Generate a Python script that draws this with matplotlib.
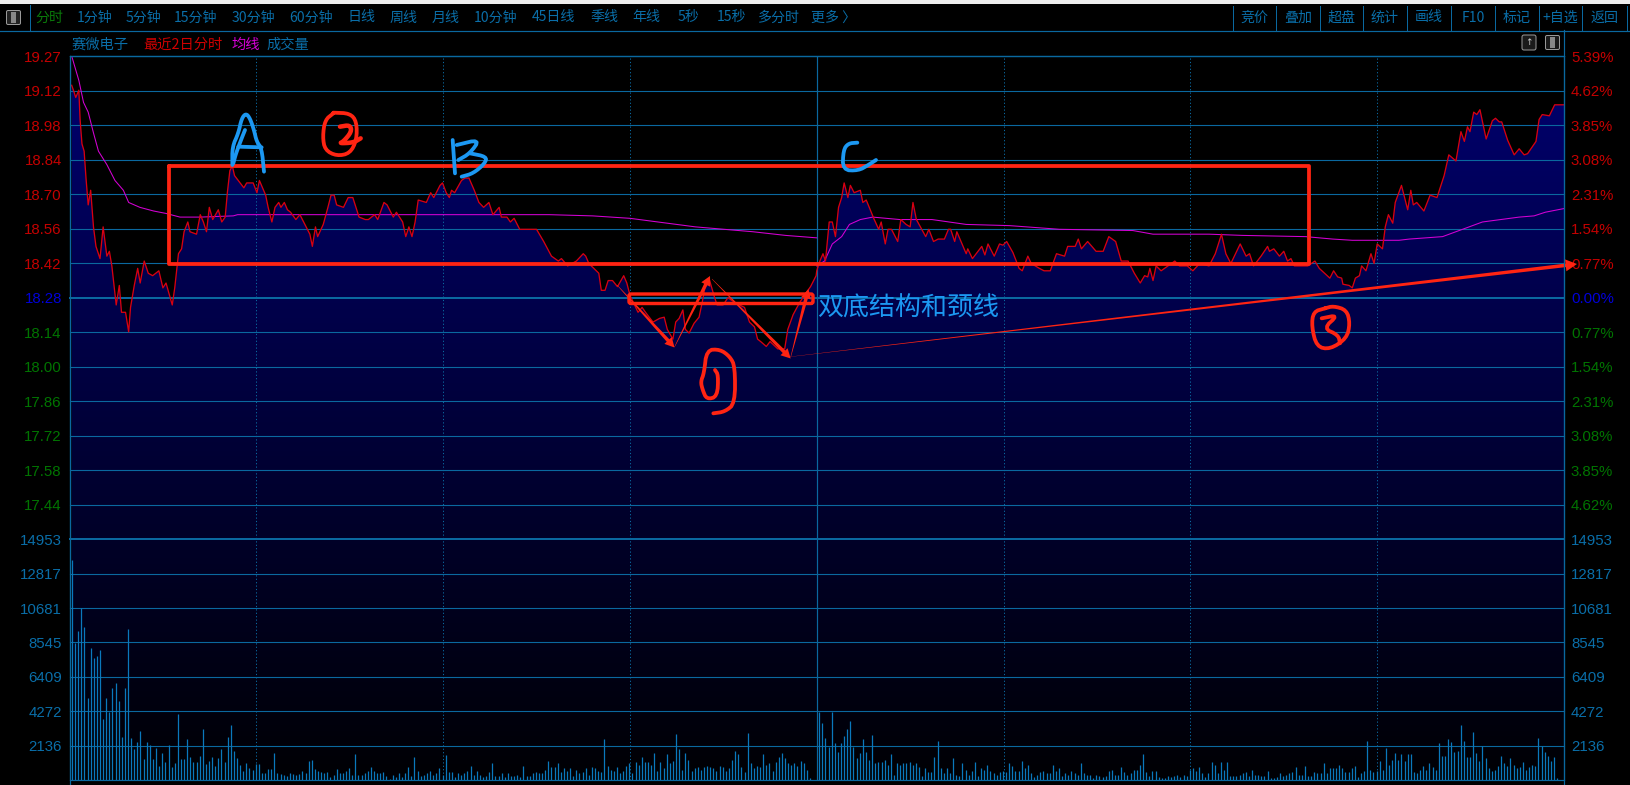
import numpy as np
import matplotlib
matplotlib.use("Agg")
import matplotlib.pyplot as plt
from matplotlib.patches import Polygon, FancyBboxPatch, Rectangle

CJK = ['Noto Sans CJK SC', 'DejaVu Sans']
NUM = ['Liberation Sans', 'DejaVu Sans']
plt.rcParams['font.family'] = CJK

W, H = 1630, 785
# ---------- data ----------
price_min = [0.7,1.4,2,3,3.4,4,4.7,5.3,6,6.8,7.7,8.5,9.8,10.8,12,12.8,13.6,15,16,16.7,18,19,19.6,20.8,21.9,22.7,24,25.3,26.7,28.7,30,31,33,33.8,35,36,36.8,38,38.7,40.8,42,43,44,44.9,46,47.8,48.9,50,50.7,51.5,52.3,53,56,56.9,59,60.2,61,63,63.8,65,66,67.2,67.9,69,70,71,72.7,74,75.6,77.2,78,79,79.7,81.5,83,84,85,85.8,88,89.5,91,93,95,96,98,99,101,102,104,105,107,108,109,110,111,112,
             114.6,116,117,119,119.8,121,122,122.7,123.7,125.9,127,128.3,130,131.5,133,134.7,136,138,138.7,140.5,141.6,142.8,144.6,146,147,150,152.3,154.8,157,158,160,162.8,165,165.8,166.8,170,170.8,172,173,174.4,176,178,179,180,181.5,182.6,183.9,185,187.4,189.5,191,192,193.8,194.7,195.8,197,197.8,199,200.6,202.2,203.2,204.5,205.6,207.2,208,209.9,211.5,213.6,216.8,218.4,220,221,222,223.8,225,227.5,229.7,230.7,232.4,234.5,236.6,238,239.8,
             240,241,242,242.8,244,245,246,247,248,248.8,250,250.8,252,254,254.8,255.9,258.3,259.9,260.7,262,262.9,264,266,267,268.7,270,270.9,272,275,276,277.5,279,281,282.3,283,284.3,285,288,288.5,290,293,294,295,297,298.7,299.8,301,303,305,306,307.8,308.9,311.5,313,315,317,319.6,320.6,323,324,325,327,329.7,332,333.8,336,337.8,340,342,343.9,345.3,346.3,347,348,349,350.6,352.8,355,356.5,359,360.8,363,366,368,370,371.4,373,376,377.9,379,380.3,382.7,384.8,385.4,386.8,388.6,390,391.2,392.3,393.4,395.5,397.7,400,401.4,404.8,406,407.3,408.6,409,411,412,413,414.3,415,416.4,418,419,420,421.7,422.6,423.6,425,425.8,427.8,429.8,430.8,431.6,432.7,435,437,439.2,441.5,443,445.3,446.9,448,449,449.8,451,452,453,455,457,458,459.2,460,461.9,464,465.6,467.2,468.3,471,472,473,475.3,477,478,480]
price_val = [19.15,19.125,19.10,19.13,19.01,18.91,18.88,18.77,18.66,18.72,18.57,18.49,18.44,18.57,18.45,18.47,18.41,18.25,18.33,18.22,18.22,18.14,18.24,18.33,18.40,18.34,18.43,18.38,18.37,18.39,18.32,18.34,18.25,18.32,18.46,18.48,18.55,18.59,18.55,18.54,18.62,18.59,18.55,18.65,18.60,18.64,18.59,18.61,18.71,18.80,18.82,18.78,18.73,18.75,18.75,18.71,18.76,18.70,18.65,18.59,18.65,18.67,18.65,18.67,18.64,18.63,18.60,18.62,18.58,18.54,18.49,18.57,18.53,18.58,18.65,18.70,18.70,18.66,18.65,18.69,18.69,18.61,18.60,18.60,18.62,18.60,18.67,18.66,18.61,18.63,18.59,18.53,18.57,18.53,18.59,18.68,
             18.67,18.71,18.69,18.74,18.75,18.71,18.69,18.72,18.71,18.76,18.77,18.77,18.72,18.67,18.65,18.67,18.62,18.65,18.61,18.61,18.59,18.605,18.56,18.56,18.56,18.56,18.51,18.45,18.43,18.44,18.41,18.43,18.46,18.45,18.42,18.38,18.31,18.31,18.35,18.35,18.325,18.37,18.34,18.29,18.25,18.22,18.24,18.22,18.18,18.195,18.20,18.15,18.11,18.18,18.195,18.23,18.15,18.135,18.175,18.20,18.26,18.35,18.35,18.28,18.25,18.25,18.28,18.26,18.24,18.18,18.16,18.11,18.10,18.08,18.10,18.07,18.07,18.15,18.21,18.26,18.30,18.325,18.37,
             18.39,18.43,18.46,18.43,18.59,18.59,18.53,18.65,18.69,18.75,18.69,18.74,18.71,18.72,18.67,18.68,18.605,18.56,18.59,18.50,18.56,18.56,18.51,18.60,18.58,18.57,18.67,18.60,18.53,18.56,18.51,18.52,18.52,18.56,18.56,18.51,18.55,18.46,18.48,18.44,18.49,18.455,18.50,18.45,18.50,18.495,18.51,18.465,18.40,18.39,18.45,18.42,18.40,18.39,18.39,18.46,18.45,18.49,18.49,18.52,18.48,18.51,18.47,18.47,18.53,18.51,18.43,18.43,18.38,18.34,18.37,18.365,18.40,18.35,18.41,18.39,18.41,18.43,18.41,18.41,18.39,18.42,18.41,18.46,18.54,18.46,18.42,18.50,18.45,18.46,18.41,18.45,18.49,18.47,18.48,18.45,18.47,18.43,18.44,18.41,18.41,18.41,18.43,18.40,18.36,18.39,18.365,18.36,18.335,18.33,18.32,18.36,18.37,18.41,18.39,18.46,18.42,18.50,18.48,18.57,18.62,18.585,18.67,18.74,18.64,18.72,18.66,18.67,18.635,18.70,18.69,18.78,18.865,18.84,18.96,18.92,18.98,18.96,19.04,19.03,19.05,18.93,19.005,19.015,19.00,19.00,18.925,18.865,18.89,18.865,18.87,18.92,19.01,19.03,19.025,19.07,19.07,19.07]

avg1_min = [0.7,3,4.5,6,7.7,9.3,12,14.6,17.3,19,22.6,27,31,35.5,42,52.6,54,74,95,112.5,154,168,180,201,219.5,230,240]
avg1_val = [19.27,19.17,19.08,19.04,18.955,18.88,18.825,18.76,18.72,18.67,18.65,18.635,18.625,18.61,18.61,18.615,18.62,18.62,18.62,18.62,18.62,18.615,18.605,18.57,18.55,18.535,18.525]
avg2_min = [240,242.5,245,248,250.5,254,258,266.6,277,288,302,318,341.5,348,366,376.8,397,405.7,412,427,430.3,441,447.4,453.8,465.6,470.4,474,480]
avg2_val = [18.41,18.43,18.50,18.53,18.58,18.60,18.61,18.60,18.60,18.58,18.575,18.56,18.555,18.54,18.54,18.535,18.53,18.52,18.515,18.515,18.52,18.53,18.56,18.59,18.61,18.615,18.63,18.645]

vol_day1 = [13660,8490,9250,10660,9480,5070,8180,7550,7700,8070,3770,5070,4240,5690,6000,4900,2690,5690,9350,2590,1900,2380,3060,1280,2340,2170,1280,1970,870,1650,1140,2170,800,1035,4080,1280,1280,2520,1450,1140,1120,1510,3150,970,1200,1430,890,1370,1900,1120,2670,3440,1820,1370,950,580,1035,725,600,970,970,410,430,660,660,1650,410,350,330,250,410,350,330,350,560,410,1200,1260,660,580,520,410,480,190,330,660,410,410,580,725,330,1590,330,330,455,580,790,580,410,410,480,250,80,330,190,410,210,410,800,250,1400,580,
            250,330,410,580,330,410,725,330,1550,480,480,165,410,330,410,560,870,330,560,330,165,250,480,1035,250,250,410,165,410,250,250,330,165,870,250,250,410,480,410,410,620,1180,810,810,1035,480,725,560,725,250,640,410,500,725,330,810,725,560,500,2525,870,640,560,810,410,560,870,1035,410,1120,950,1430,1120,1120,950,1655,560,1120,725,1590,1035,1200,2835,1900,640,1655,1260,560,725,810,640,810,870,810,725,560,870,810,560,725,1260,1820,1590,810,480,2900,1035,725,870,810,1590,950,1035,560,1120,1430,1655,1345,1035,950,1035,870,1200,1035,640,100]
vol_day2 = [4240,3520,2590,2070,4220,2280,1740,2280,2730,3150,3680,2070,1345,1655,2525,1740,1260,2815,1035,1120,1120,1260,950,1590,330,1035,950,1035,1035,1120,950,1035,810,250,725,480,480,1430,2420,725,410,725,410,1345,330,250,1035,640,330,560,1120,250,725,640,950,560,410,330,480,560,480,1035,870,560,560,
            1200,725,950,410,210,330,480,560,410,410,950,560,725,250,410,330,560,410,330,1035,410,330,330,100,330,250,165,250,560,640,330,330,810,480,330,410,640,640,950,1590,480,250,560,560,165,100,100,250,165,250,330,165,330,250,640,725,560,810,410,165,410,1120,950,410,1120,640,1120,250,250,250,330,410,500,250,640,330,330,250,250,560,100,100,165,410,250,330,410,480,810,330,330,870,250,250,480,410,410,1035,410,725,725,725,950,725,500,500,725,870,165,410,560,2420,640,500,560,1200,640,1970,950,1260,1655,1260,1590,1200,1590,1590,500,410,640,870,640,1035,810,640,2280,1510,1510,2525,2360,1740,1820,3440,2420,1430,1430,2960,1655,1200,2130,1345,725,560,640,870,1510,1035,870,1345,950,725,810,1120,640,810,950,870,2590,2130,1740,1510,1200,1430,100]

price_labels = ['19.27','19.12','18.98','18.84','18.70','18.56','18.42','18.28','18.14','18.00','17.86','17.72','17.58','17.44']
pct_labels = ['5.39%','4.62%','3.85%','3.08%','2.31%','1.54%','0.77%','0.00%','0.77%','1.54%','2.31%','3.08%','3.85%','4.62%']
vol_levels = [2136,4272,6409,8545,10681,12817,14953]

tool_left = [('分时',35,'#0a7a0a'),('1分钟',77,None),('5分钟',126,None),('15分钟',174,None),('30分钟',232,None),('60分钟',289,None),('日线',347,None),('周线',390,None),('月线',432,None),('10分钟',474,None),('45日线',532,None),('季线',590,None),('年线',632,None),('5秒',678,None),('15秒',717,None),('多分时',758,None),('更多 〉',811,None)]
tool_right = ['竞价','叠加','超盘','统计','画线','F10','标记','+自选','返回']
tool_seps = [1233.4,1276,1320,1363,1407,1451,1495,1538.5,1582,1627]

# ---------- style ----------
GRID = '#0a689f'
RED_T = '#c40000'
BLUE_T = '#0000d8'
GREEN_T = '#007400'
LBL = '#0a6ea8'
PEN_R = '#ff2412'
PEN_B = '#1c98f2'
px = 72 / 100

fig = plt.figure(figsize=(W/100, H/100), dpi=100, facecolor='black')
def axes_px(l, t, r, b, **kw):
    return fig.add_axes([l/W, 1-b/H, (r-l)/W, (b-t)/H], **kw)

L, R, T, MID, B = 69.5, 1564, 56, 539.3, 780
ppx = 0.99/7/((MID-T)/14)
P_TOP = 19.27
P_BOT = P_TOP - (B-T)*ppx

ax = axes_px(L, T, R, B, facecolor='black', zorder=1)
ax.set_xlim(0, 480); ax.set_ylim(P_BOT, P_TOP)
# gradient fill under the price
grad = np.zeros((256, 1, 3), dtype=np.uint8)
grad[:, 0, 2] = np.linspace(112, 4, 256).astype(np.uint8)
im = ax.imshow(grad, extent=(0, 480, P_BOT, P_TOP), aspect='auto', zorder=1, interpolation='bilinear')
poly = Polygon(list(zip(price_min, price_val)) + [(480, P_BOT), (price_min[0], P_BOT)], closed=True,
               transform=ax.transData, fc='none', ec='none')
ax.add_patch(poly)
im.set_clip_path(poly)
ax.set_xlim(0, 480); ax.set_ylim(P_BOT, P_TOP)

ticks = [P_TOP - k*(0.99/7) for k in range(14)]
for k, y in enumerate(ticks):
    ax.axhline(y, color=GRID, lw=2*px if k == 7 else 1.1*px, zorder=2, clip_on=False)
for m in [60, 120, 180, 300, 360, 420]:
    ax.axvline(m, color=GRID, lw=1*px, ls=(0, (1.2, 2.2)), zorder=2)
ax.axvline(240, color=GRID, lw=1.2*px, zorder=2)
ax.plot(avg1_min, avg1_val, color='#d400d4', lw=1.05*px, zorder=3)
ax.plot(avg2_min, avg2_val, color='#d400d4', lw=1.05*px, zorder=3)
ax.plot(price_min, price_val, color='#d80010', lw=1.3*px, zorder=4)

colors = [RED_T]*7 + [BLUE_T] + [GREEN_T]*6
ax.set_xticks([])
ax.set_yticks(ticks, labels=price_labels)
ax.tick_params(axis='y', length=0, pad=5.5)
for t, c in zip(ax.get_yticklabels(), colors):
    t.set_color(c); t.set_fontfamily(NUM); t.set_fontsize(15*px)
ax2 = ax.twinx()
ax2.set_ylim(P_BOT, P_TOP); ax2.set_xticks([])
ax2.set_yticks(ticks, labels=pct_labels)
ax2.tick_params(axis='y', length=0, pad=5)
for t, c in zip(ax2.get_yticklabels(), colors):
    t.set_color(c); t.set_fontfamily(NUM); t.set_fontsize(15*px)
for a in (ax, ax2):
    for s in a.spines.values():
        s.set_color(GRID); s.set_linewidth(1.1*px)
ax2.patch.set_visible(False)

vax = axes_px(L, MID, R, B, zorder=3)
vax.patch.set_visible(False)
vax.set_xlim(0, 480); vax.set_ylim(0, 14953)
for i, lv in enumerate(vol_levels):
    vax.axhline(lv, color=GRID, lw=2*px if lv == 14953 else 1.1*px, clip_on=False, zorder=1)
vax.vlines(np.arange(len(vol_day1)) + 0.8, 0, vol_day1, color='#0a78bc', lw=1.25*px, zorder=2)
vax.vlines(np.arange(len(vol_day2)) + 240.8, 0, vol_day2, color='#0a78bc', lw=1.25*px, zorder=2)
vax.set_xticks([]); vax.set_yticks(vol_levels, labels=[str(v) for v in vol_levels])
vax.tick_params(axis='y', length=0, pad=5.5, labelcolor=LBL)
for t in vax.get_yticklabels():
    t.set_fontfamily(NUM); t.set_fontsize(15*px)
vax2 = vax.twinx()
vax2.set_ylim(0, 14953); vax2.set_xticks([])
vax2.set_yticks(vol_levels, labels=[str(v) for v in vol_levels])
vax2.tick_params(axis='y', length=0, pad=5, labelcolor=LBL)
for t in vax2.get_yticklabels():
    t.set_fontfamily(NUM); t.set_fontsize(15*px)
for a in (vax, vax2):
    a.patch.set_visible(False)
    for s in a.spines.values():
        s.set_visible(False)

# ---------- overlay: window chrome and hand drawing ----------
ov = fig.add_axes([0, 0, 1, 1], zorder=5)
ov.set_xlim(0, W); ov.set_ylim(H, 0); ov.axis('off')
ov.add_patch(Rectangle((0, 0), W, 3.5, fc='#eeeeee', ec='none'))
ov.plot([0, W], [30.5, 30.5], color=GRID, lw=1.2*px)
ov.plot([L, R], [T, T], color=GRID, lw=1.2*px)
ov.plot([30, 30], [5, 30], color=GRID, lw=1*px)
ov.plot([R, R], [30, H], color=GRID, lw=1.2*px)
ov.plot([L, L], [T, H], color=GRID, lw=1.2*px)
for x in tool_seps:
    ov.plot([x, x], [6, 30], color=GRID, lw=1*px)
ov.add_patch(FancyBboxPatch((8, 12), 11, 11, boxstyle='round,pad=1.5', fc='#222222', ec='#9a9a9a', lw=1*px))
ov.add_patch(Rectangle((11, 12), 5, 11, fc='#888888', ec='none'))
for s, x, c in tool_left:
    ov.text(x, 17.5, s, color=c or LBL, fontsize=14*px, family=CJK, ha='left', va='center')
for s, a, b in zip(tool_right, tool_seps[:-1], tool_seps[1:]):
    ov.text((a+b)/2, 17.5, s, color=LBL, fontsize=14*px, family=CJK, ha='center', va='center')
for s, x, c in [('赛微电子', 71, LBL), ('最近2日分时', 143, '#d00000'), ('均线', 231, '#d800d8'), ('成交量', 266, LBL)]:
    ov.text(x, 45, s, color=c, fontsize=14.3*px, family=CJK, ha='left', va='center')
ov.add_patch(FancyBboxPatch((1524, 37), 10, 11, boxstyle='round,pad=2', fc='#1a1a1a', ec='#999999', lw=1*px))
ov.text(1529, 42.5, '↑', color='#cccccc', fontsize=9*px, family=['DejaVu Sans'], ha='center', va='center')
ov.add_patch(FancyBboxPatch((1547, 37), 11, 11, boxstyle='round,pad=1.5', fc='#1a1a1a', ec='#999999', lw=1*px))
ov.add_patch(Rectangle((1550, 37), 5, 11, fc='#888888', ec='none'))

def smooth(p, n=2):
    # corner cutting so the pen strokes read as freehand curves
    for _ in range(n):
        q = [p[0]]
        for a, b in zip(p[:-1], p[1:]):
            q += [0.75*a + 0.25*b, 0.25*a + 0.75*b]
        q.append(p[-1])
        p = np.array(q)
    return p

def stroke(origin, pts, color, w):
    p = smooth(np.array(pts, float) / 3 + origin)
    ov.plot(p[:, 0], p[:, 1], color=color, lw=w*px, solid_capstyle='round', solid_joinstyle='round')

def taper(p0, p1, w0, w1, head=6):
    p0, p1 = np.array(p0, float), np.array(p1, float)
    d = (p1-p0)/np.hypot(*(p1-p0)); n = np.array([-d[1], d[0]])
    neck = p1 - d*head*1.9
    ov.add_patch(Polygon([p0+n*w0/2, neck+n*w1/2, neck+n*head, p1, neck-n*head, neck-n*w1/2, p0-n*w0/2],
                         closed=True, fc=PEN_R, ec='none'))

# boxed range
ov.plot([169, 1309, 1309, 169, 169], [166, 166, 263.5, 263.5, 166], color=PEN_R, lw=3.8*px,
        solid_joinstyle='round', solid_capstyle='round')
# neckline
ov.add_patch(FancyBboxPatch((631, 296), 180, 5.5, boxstyle='round,pad=2', fc='none', ec=PEN_R, lw=3.4*px))
# arrows
taper((617, 285), (674.5, 347.5), 0.4, 3.6, 5)
taper((674.5, 347), (710, 276), 0.4, 3.6, 5)
taper((712, 279), (790.7, 358.5), 0.4, 3.6, 5)
taper((790.7, 357), (808.5, 289), 0.4, 3.6, 5)
taper((790.7, 356.7), (1577, 264), 0.2, 3.6, 6)
ov.text(817, 308, '双底结构和颈线', color=PEN_B, fontsize=26*px, family=CJK, ha='left', va='center')

# letter A and circled 2
o3 = (0, 50)
stroke(o3, [(697,345),(697,290),(715,250),(725,205),(738,190),(750,205),(762,240),(770,275),(785,295),(792,365)], PEN_B, 3.8)
stroke(o3, [(735,240),(725,265),(708,310),(700,340)], PEN_B, 3.8)
stroke(o3, [(715,290),(785,292)], PEN_B, 3.8)
stroke(o3, [(1000,190),(975,210),(968,260),(975,300),(1010,318),(1050,310),(1070,270),(1070,215),(1050,190),(1000,188)], PEN_R, 3.8)
stroke(o3, [(1020,230),(1050,225),(1055,245),(1030,275),(1018,280),(1060,278),(1082,265)], PEN_R, 4.5)
# letter B and circled 1
o4 = (420, 130)
stroke(o4, [(98,30),(105,130)], PEN_B, 3.8)
stroke(o4, [(110,45),(180,28),(150,70),(115,90)], PEN_B, 3.8)
stroke(o4, [(150,70),(200,80),(195,100),(160,130),(125,140)], PEN_B, 3.8)
stroke(o4, [(880,850),(915,845),(945,820),(945,710),(930,680),(900,658),(860,660),(852,730),(842,755),(848,780),(860,808),(892,800),(895,735),(885,720)], PEN_R, 3.8)
# letter C
stroke((800, 130), [(172,38),(145,40),(130,60),(128,120),(175,122),(205,105),(228,90)], PEN_B, 3.8)
# circled 3
o6 = (1210, 80)
stroke(o6, [(345,685),(310,695),(305,740),(320,800),(360,808),(410,775),(420,730),(410,690),(370,678),(345,685)], PEN_R, 3.8)
stroke(o6, [(335,715),(385,705),(340,745),(385,765),(390,790)], PEN_R, 3.8)

fig.savefig('out.png', dpi=100, facecolor='black')
